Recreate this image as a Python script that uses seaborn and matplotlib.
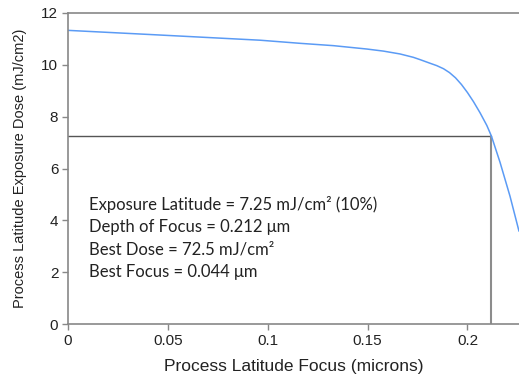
import matplotlib
matplotlib.use("Agg")
import matplotlib.pyplot as plt
import seaborn as sns
import pandas as pd

# Process window curve: focus (microns) vs exposure dose (mJ/cm2)
focus = [0.0, 0.041, 0.0962, 0.1162, 0.1329, 0.1496, 0.1579, 0.1662,
         0.1729, 0.1763, 0.1813, 0.1846, 0.1880, 0.1910, 0.1940, 0.1970,
         0.2000, 0.2030, 0.2063, 0.2097, 0.212, 0.2163, 0.2213, 0.2258]
dose = [11.33, 11.17, 10.95, 10.83, 10.74, 10.61, 10.53, 10.42,
        10.29, 10.20, 10.06, 9.97, 9.85, 9.70, 9.50, 9.24,
        8.93, 8.58, 8.15, 7.66, 7.25, 6.24, 4.93, 3.58]

exposure_latitude = 7.25
depth_of_focus = 0.212
best_dose = 72.5
best_focus = 0.044

x_ticks = [0, 0.05, 0.1, 0.15, 0.2]
x_tick_labels = ["0", "0.05", "0.1", "0.15", "0.2"]
y_ticks = [0, 2, 4, 6, 8, 10, 12]

sns.set_style("white")
plt.rcParams["font.family"] = ["Liberation Sans", "DejaVu Sans"]

fig = plt.figure(figsize=(5.19, 3.83), dpi=100)
ax = fig.add_axes([68 / 519, 1 - 324 / 383, 1 - 68 / 519, (324 - 13) / 383])

df = pd.DataFrame({"focus": focus, "dose": dose})
sns.lineplot(data=df, x="focus", y="dose", ax=ax, color="#5b9bf5",
             linewidth=1.1, sort=False, estimator=None)

# Latitude box marking exposure latitude and depth of focus
ax.plot([0, depth_of_focus], [exposure_latitude, exposure_latitude],
        color="#555555", linewidth=1.0, zorder=1)
ax.plot([depth_of_focus, depth_of_focus], [0, exposure_latitude],
        color="#8c8c8c", linewidth=1.5, zorder=1)

ax.set_xlim(0, 0.2258)
ax.set_ylim(0, 12)
ax.set_xticks(x_ticks)
ax.set_xticklabels(x_tick_labels)
ax.set_yticks(y_ticks)

for side in ["left", "bottom", "top"]:
    ax.spines[side].set_color("#888888")
    ax.spines[side].set_linewidth(1.2)
ax.spines["right"].set_visible(False)

ax.tick_params(axis="both", which="major", direction="out", length=4,
               width=1, color="#888888", labelsize=11, labelcolor="#222222",
               bottom=True, left=True, pad=3)

ax.set_xlabel("Process Latitude Focus (microns)", fontsize=12.5,
              color="#222222", labelpad=8)
ax.set_ylabel("Process Latitude Exposure Dose (mJ/cm2)", fontsize=10.5,
              color="#222222", labelpad=10)

summary = [
    f"Exposure Latitude = {exposure_latitude} mJ/cm\u00b2 (10%)",
    f"Depth of Focus = {depth_of_focus} \u03bcm",
    f"Best Dose = {best_dose} mJ/cm\u00b2",
    f"Best Focus = {best_focus} \u03bcm",
]
for i, line in enumerate(summary):
    ax.text(0.0103, 4.60 - i * 0.86, line, fontsize=12, color="#222222",
            family=["Lato", "DejaVu Sans"], va="center", ha="left")

fig.savefig("out.png", dpi=100)
